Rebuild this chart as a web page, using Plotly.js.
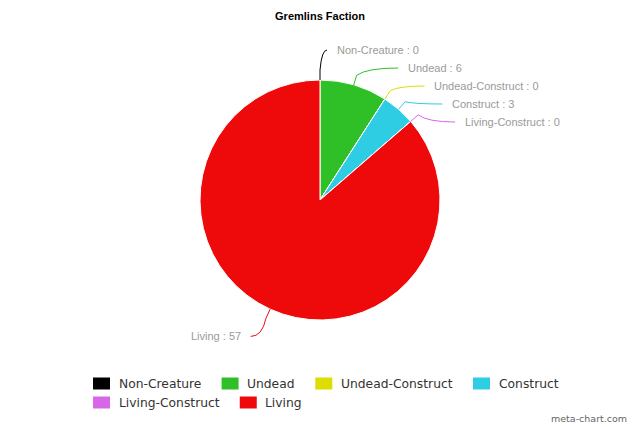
<!DOCTYPE html>
<html><head><meta charset="utf-8">
<script src="https://cdn.plot.ly/plotly-3.0.1.min.js"></script>
<style>html,body{margin:0;padding:0;background:#fff}</style>
</head><body><div id="chart" style="width:640px;height:427px"></div>
<script>
const chartTitle = 'Gremlins Faction';
const categories = ['Non-Creature', 'Undead', 'Undead-Construct', 'Construct', 'Living-Construct', 'Living'];
const values = [0, 6, 0, 3, 0, 57];
const colors = ['#000000', '#2fbf26', '#dddd00', '#2ecde3', '#d867e8', '#ee0a0a'];
const watermark = 'meta-chart.com';

const W = 640, H = 427;
const cx = 320, cy = 200, r = 120;       // pie geometry (px)
const labelR = r + 30, breakR = r + 10, minGap = 18;

const px = x => x / W;
const py = y => 1 - y / H;
const pt = (rad, deg) => [cx + rad * Math.sin(deg * Math.PI / 180), cy - rad * Math.cos(deg * Math.PI / 180)];

const total = values.reduce((a, b) => a + b, 0);
let cum = 0;
const items = categories.map((c, i) => {
  const start = cum / total * 360;
  cum += values[i];
  const end = cum / total * 360;
  const mid = (start + end) / 2;
  return {i, mid, right: mid < 180, y: pt(labelR, mid)[1]};
});
['right', 'left'].forEach(side => {
  const list = items.filter(it => (side === 'right') === it.right).sort((a, b) => a.y - b.y);
  for (let k = 1; k < list.length; k++) {
    if (list[k].y < list[k - 1].y + minGap) list[k].y = list[k - 1].y + minGap;
  }
});

const shapes = [], annotations = [];
items.forEach(it => {
  const dir = it.right ? 1 : -1;
  const dy = it.y - cy;
  const dx = Math.sqrt(Math.max(0, labelR * labelR - dy * dy));
  const circX = cx + dir * dx;
  const endX = circX + dir * 7;
  const textX = circX + dir * 15;
  const touch = pt(r, it.mid);
  const brk = pt(breakR, it.mid);
  const ctrlX = brk[0] + (endX - brk[0]) * 0.25;
  const path = `M ${px(touch[0])} ${py(touch[1])} L ${px(brk[0])} ${py(brk[1])} Q ${px(ctrlX)} ${py(it.y)} ${px(endX)} ${py(it.y)}`;
  shapes.push({type: 'path', xref: 'paper', yref: 'paper', path: path,
    line: {color: colors[it.i], width: 1}});
  annotations.push({xref: 'paper', yref: 'paper', x: px(textX), y: py(it.y),
    xanchor: it.right ? 'left' : 'right', yanchor: 'middle', showarrow: false,
    text: `${categories[it.i]} : ${values[it.i]}`,
    font: {family: 'Liberation Sans, Arial, sans-serif', size: 11, color: '#9a9a9a'}});
});

// custom legend (flowing rows, variable item widths)
const legFont = 12.3, legFamily = 'DejaVu Sans';
const ctx = document.createElement('canvas').getContext('2d');
ctx.font = legFont + 'px "' + legFamily + '"';
const legLeft = 93, legRight = 625, legTop = 383.5, rowH = 19, swW = 17, swH = 12, swGap = 6.5, itemGap = 22.7;
let lx = legLeft, ly = legTop;
categories.forEach((c, i) => {
  const tw = ctx.measureText(c).width;
  const iw = swW + swGap + tw;
  if (lx > legLeft && lx + iw > legRight) { lx = legLeft; ly += rowH; }
  shapes.push({type: 'rect', xref: 'paper', yref: 'paper', x0: px(lx), x1: px(lx + swW),
    y0: py(ly - swH / 2), y1: py(ly + swH / 2), fillcolor: colors[i], line: {width: 0}});
  annotations.push({xref: 'paper', yref: 'paper', x: px(lx + swW + swGap), y: py(ly), xanchor: 'left', yanchor: 'middle',
    showarrow: false, text: c, font: {family: 'DejaVu Sans, sans-serif', size: legFont, color: '#333333'}});
  lx += iw + itemGap;
});

annotations.push({xref: 'paper', yref: 'paper', x: px(629), y: py(418), xanchor: 'right', yanchor: 'middle',
  showarrow: false, text: watermark, font: {family: 'DejaVu Sans, sans-serif', size: 9.5, color: '#666666'}});

const data = [{
  type: 'pie', labels: categories, values: values, sort: false, direction: 'clockwise', rotation: 0,
  marker: {colors: colors, line: {color: '#ffffff', width: 1}},
  textinfo: 'none', hoverinfo: 'none', showlegend: false,
  domain: {x: [px(cx - r), px(cx + r)], y: [py(cy + r), py(cy - r)]}
}];

const layout = {
  width: W, height: H, margin: {l: 0, r: 0, t: 0, b: 0},
  paper_bgcolor: '#ffffff', plot_bgcolor: '#ffffff',
  title: {text: '<b>' + chartTitle + '</b>', x: 0.5, xanchor: 'center', y: py(16), yanchor: 'middle',
    font: {family: 'Liberation Sans, Arial, sans-serif', size: 11, color: '#000000'}},
  showlegend: false,
  shapes: shapes, annotations: annotations
};
Plotly.newPlot('chart', data, layout, {displayModeBar: false, staticPlot: true});
</script></body></html>
